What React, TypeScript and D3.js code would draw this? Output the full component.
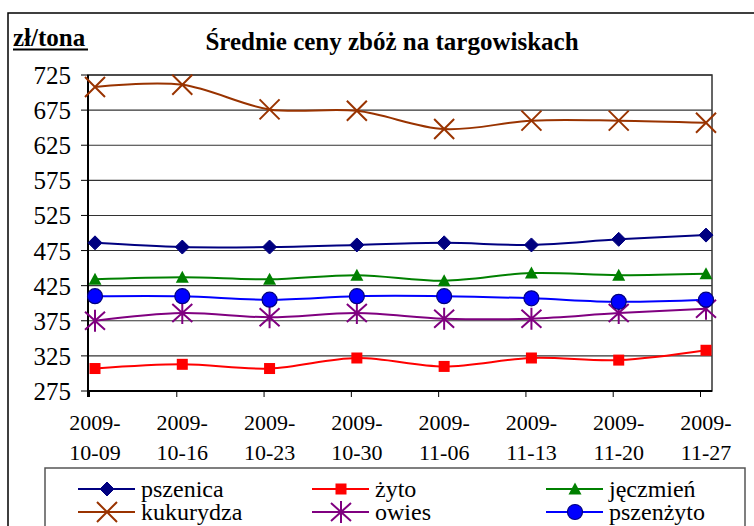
import React from "react";
import * as d3 from "d3";

const dates = [
	"2009-10-09",
	"2009-10-16",
	"2009-10-23",
	"2009-10-30",
	"2009-11-06",
	"2009-11-13",
	"2009-11-20",
	"2009-11-27",
];
const pszenica = [486, 480, 480, 483, 486, 483, 491, 497];
const zyto = [307, 313, 307, 322, 310, 322, 319, 333];
const jeczmien = [434, 437, 434, 440, 432, 443, 440, 442];
const kukurydza = [708, 711, 676, 674, 648, 660, 660, 657];
const owies = [375, 386, 380, 386, 378, 378, 386, 392];
const pszenzyto = [410, 410, 405, 410, 410, 407, 402, 405];
const yTicks = [275, 325, 375, 425, 475, 525, 575, 625, 675, 725];

type Marker = "diamond" | "square" | "triangle" | "x" | "star" | "circle";

const series: Array<{name: string; values: number[]; color: string; marker: Marker}> = [
	{name: "pszenica", values: pszenica, color: "#000080", marker: "diamond"},
	{name: "żyto", values: zyto, color: "#ff0000", marker: "square"},
	{name: "jęczmień", values: jeczmien, color: "#008000", marker: "triangle"},
	{name: "kukurydza", values: kukurydza, color: "#993300", marker: "x"},
	{name: "owies", values: owies, color: "#800080", marker: "star"},
	{name: "pszenżyto", values: pszenzyto, color: "#0000ff", marker: "circle"},
];

const W = 754;
const H = 526;
const plot = {left: 88, right: 712, top: 75, bottom: 391};

const x = d3.scalePoint<string>().domain(dates).range([95, 706]);
const y = d3.scaleLinear().domain([275, 725]).range([plot.bottom, plot.top]);

const line = d3
	.line<number>()
	.x((_, i) => x(dates[i]) as number)
	.y((d) => y(d))
	.curve(d3.curveCardinal.tension(0));

const serif: React.CSSProperties = {fontFamily: '"Liberation Serif"'};

const MarkerShape = ({type, color, cx, cy}: {type: Marker; color: string; cx: number; cy: number}) => {
	const t = `translate(${cx},${cy})`;
	switch (type) {
		case "diamond":
			return <path transform={t} d="M0,-7L7,0L0,7L-7,0Z" fill={color} stroke={color} strokeWidth={1} />;
		case "square":
			return <rect transform={t} x={-5.5} y={-5.5} width={11} height={11} fill={color} />;
		case "triangle":
			return <path transform={t} d="M0,-6.5L6.5,5.5L-6.5,5.5Z" fill={color} />;
		case "x":
			return (
				<path transform={t} d="M-10,-10L10,10M-10,10L10,-10" stroke={color} strokeWidth={2} fill="none" />
			);
		case "star":
			return (
				<path
					transform={t}
					d="M-10,-9L10,9M-10,9L10,-9M0,-11L0,11"
					stroke={color}
					strokeWidth={2}
					fill="none"
				/>
			);
		case "circle":
			return <circle transform={t} r={7.5} fill={color} stroke="#000080" strokeWidth={1.2} />;
	}
};

const legendCols = [78, 312, 546];
const legendRows = [489, 512];

const App: React.FC = () => {
	return (
		<svg width={W} height={H} style={{position: "absolute", left: 0, top: 0, background: "#fff"}}>
			<rect x={0} y={0} width={W} height={H} fill="#fff" />
			{/* outer frame */}
			<rect x={8} y={13} width={W + 20} height={H + 20} fill="none" stroke="#000" strokeWidth={1.5} />

			{/* headings */}
			<text x={13} y={46} fontSize={25} fontWeight="bold" fill="#000" style={serif}>
				zł/tona
			</text>
			<line x1={13} x2={88} y1={49.5} y2={49.5} stroke="#000" strokeWidth={2} />
			<text x={392} y={50} fontSize={25} fontWeight="bold" textAnchor="middle" fill="#000" style={serif}>
				Średnie ceny zbóż na targowiskach
			</text>

			{/* gridlines */}
			{yTicks.map((t) => (
				<line key={t} x1={plot.left} x2={plot.right} y1={y(t)} y2={y(t)} stroke="#333" strokeWidth={1.1} />
			))}
			{/* plot border */}
			<rect
				x={plot.left}
				y={plot.top}
				width={plot.right - plot.left}
				height={plot.bottom - plot.top}
				fill="none"
				stroke="#333"
				strokeWidth={1.5}
			/>
			<line x1={plot.left} x2={plot.left} y1={plot.top} y2={plot.bottom + 6} stroke="#000" strokeWidth={2} />
			<line x1={plot.left} x2={plot.right} y1={plot.bottom} y2={plot.bottom} stroke="#000" strokeWidth={2} />

			{/* y axis */}
			{yTicks.map((t) => (
				<g key={t}>
					<line x1={81} x2={plot.left} y1={y(t)} y2={y(t)} stroke="#000" strokeWidth={1} />
					<text x={71} y={y(t) + 9} fontSize={25} textAnchor="end" fill="#000" style={serif}>
						{t}
					</text>
				</g>
			))}

			{/* x axis */}
			{dates.map((d) => {
				const px = x(d) as number;
				return (
					<g key={d}>
						<line x1={px - 5.5} x2={px - 5.5} y1={plot.bottom} y2={plot.bottom + 6} stroke="#000" strokeWidth={1} />
						<text x={px} y={430} fontSize={22} textAnchor="middle" fill="#000" style={serif}>
							{d.slice(0, 5)}
						</text>
						<text x={px} y={460} fontSize={22} textAnchor="middle" fill="#000" style={serif}>
							{d.slice(5)}
						</text>
					</g>
				);
			})}

			{/* series */}
			{series.map((s) => (
				<g key={s.name}>
					<path d={line(s.values) || ""} fill="none" stroke={s.color} strokeWidth={2} />
					{s.values.map((v, i) => (
						<MarkerShape key={i} type={s.marker} color={s.color} cx={x(dates[i]) as number} cy={y(v)} />
					))}
				</g>
			))}

			{/* legend */}
			<rect x={45} y={468} width={700} height={80} fill="#fff" stroke="#555" strokeWidth={1.5} />
			{series.map((s, i) => {
				const lx = legendCols[i % 3];
				const ly = legendRows[Math.floor(i / 3)];
				return (
					<g key={s.name}>
						<line x1={lx} x2={lx + 57} y1={ly} y2={ly} stroke={s.color} strokeWidth={2} />
						<MarkerShape type={s.marker} color={s.color} cx={lx + 29} cy={ly} />
						<text x={lx + 63} y={ly + 8} fontSize={24} fill="#000" style={serif}>
							{s.name}
						</text>
					</g>
				);
			})}
		</svg>
	);
};

export default App;
